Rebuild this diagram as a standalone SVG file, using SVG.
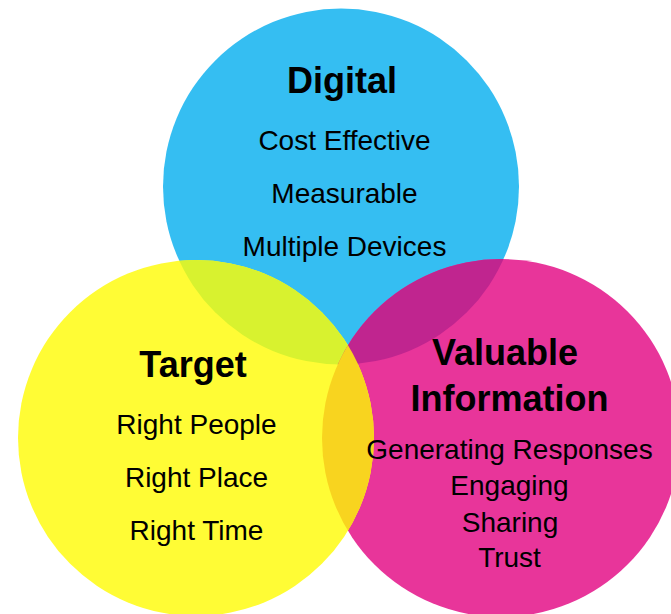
<svg xmlns="http://www.w3.org/2000/svg" width="671" height="614" viewBox="0 0 671 614">
<style>
.t{font-family:"Liberation Sans",Arial,sans-serif;font-size:28px;fill:#000;text-anchor:middle}
.h{font-family:"Liberation Sans",Arial,sans-serif;font-size:36px;font-weight:bold;fill:#000;text-anchor:middle}
</style>
<defs>
<clipPath id="cb"><circle cx="341" cy="186.5" r="178"/></clipPath>
<clipPath id="cm"><circle cx="501" cy="438" r="179"/></clipPath>
</defs>
<rect width="671" height="614" fill="#fff"/>
<g id="digital">
<circle cx="341" cy="186.5" r="178" fill="#35BEF2"/>
</g>
<g id="valuable">
<circle cx="501" cy="438" r="179" fill="#E8359A"/>
</g>
<g id="target">
<circle cx="196" cy="438" r="178" fill="#FFFC35"/>
</g>
<g id="overlaps">
<circle cx="196" cy="438" r="178" fill="#D8F22F" clip-path="url(#cb)"/>
<circle cx="501" cy="438" r="179" fill="#C0258F" clip-path="url(#cb)"/>
<circle cx="196" cy="438" r="178" fill="#F8D41F" clip-path="url(#cm)"/>
</g>
<g id="digital-text">
<text class="h" x="342" y="93">Digital</text>
<text class="t" x="344.5" y="150">Cost Effective</text>
<text class="t" x="344.5" y="203">Measurable</text>
<text class="t" x="344.5" y="256">Multiple Devices</text>
</g>
<g id="target-text">
<text class="h" x="193" y="377">Target</text>
<text class="t" x="196.5" y="434">Right People</text>
<text class="t" x="196.5" y="487">Right Place</text>
<text class="t" x="196.5" y="540">Right Time</text>
</g>
<g id="valuable-text">
<text class="h" x="505" y="365">Valuable</text>
<text class="h" x="509.5" y="411">Information</text>
<text class="t" x="509.5" y="459">Generating Responses</text>
<text class="t" x="509.5" y="495">Engaging</text>
<text class="t" x="510" y="532">Sharing</text>
<text class="t" x="509.5" y="567">Trust</text>
</g>
</svg>
